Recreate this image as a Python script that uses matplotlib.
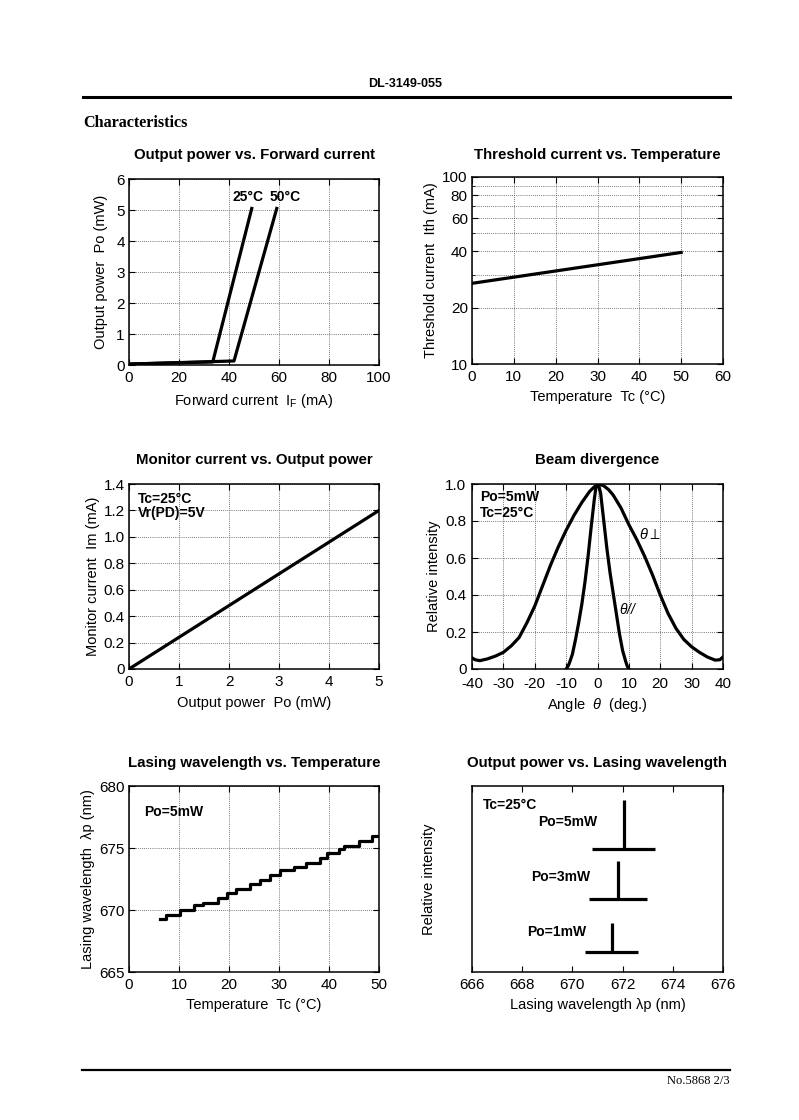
"""
plot.py

Laser diode DL-3149-055 characteristics sheet: six small panels laid out
like the datasheet page (2 columns x 3 rows), saved to out.png.
"""

import matplotlib
matplotlib.use("Agg")
import matplotlib.pyplot as plt
from matplotlib.ticker import FixedFormatter, FixedLocator, NullFormatter, NullLocator

W, H = 799, 1120
SANS = "Liberation Sans"
SERIF = "Liberation Serif"
LW = 2.3
TICK_FS = 11
LABEL_FS = 10.5
NOTE_FS = 10

plt.rcParams["font.family"] = [SANS, "DejaVu Sans"]
plt.rcParams["axes.unicode_minus"] = False
plt.rcParams["mathtext.fontset"] = "custom"
plt.rcParams["mathtext.rm"] = SANS
plt.rcParams["mathtext.it"] = SANS + ":italic"

# ---------------------------------------------------------------------------
# Data
# ---------------------------------------------------------------------------

# Output power vs. forward current
if_25c = [0, 33.5, 49.1]
po_25c = [0.03, 0.1, 5.05]
if_50c = [0, 42.0, 59.1]
po_50c = [0.03, 0.13, 5.05]

# Threshold current vs. temperature
tc_ith = [0, 50]
ith = [27.0, 39.5]

# Monitor current vs. output power
po_im = [0, 5]
im = [0.0, 1.2]

# Beam divergence
ang_perp = [-40, -39, -37.5, -35, -32.5, -30, -27.5, -25, -22.5, -20, -17.5, -15,
            -12.5, -10, -7.5, -5, -2.5, -1, 0.5, 2, 3.5, 5, 7.5, 10, 12.5, 15, 17.5,
            20, 22.5, 25, 27.5, 30, 32.5, 35, 37.5, 39, 40]
int_perp = [0.06, 0.05, 0.045, 0.055, 0.07, 0.09, 0.125, 0.17, 0.25, 0.34, 0.45, 0.56,
            0.66, 0.75, 0.83, 0.90, 0.96, 0.985, 1.0, 0.99, 0.97, 0.94, 0.87, 0.78, 0.70,
            0.61, 0.51, 0.40, 0.30, 0.22, 0.16, 0.12, 0.09, 0.065, 0.048, 0.05, 0.065]
ang_par = [-10, -9.5, -9, -8, -7, -6, -5, -4, -3, -2, -1, -0.5, 0, 0.5, 1,
           2, 3, 4, 5, 6, 7, 8, 9, 9.5, 10]
int_par = [0.0, 0.012, 0.03, 0.08, 0.16, 0.25, 0.35, 0.47, 0.61, 0.77, 0.92, 0.98, 1.0,
           0.985, 0.95, 0.80, 0.65, 0.52, 0.41, 0.30, 0.19, 0.10, 0.04, 0.015, 0.0]

# Lasing wavelength vs. temperature (mode hop staircase)
tc_wl = [6.2, 7.4, 10.1, 12.9, 14.7, 17.7, 19.5, 21.4, 24.2, 26.1, 28.1,
         30.2, 32.9, 35.3, 38.2, 39.5, 41.9, 42.9, 45.9, 48.5, 50.0]
wl = [669.3, 669.6, 670.0, 670.4, 670.6, 671.0, 671.4, 671.7, 672.1, 672.4, 672.8,
      673.2, 673.5, 673.8, 674.2, 674.6, 674.9, 675.2, 675.6, 676.0, 676.0]

# Output power vs. lasing wavelength (spectra as sticks)
spec_labels = ["Po=5mW", "Po=3mW", "Po=1mW"]
spec_peak = [672.05, 671.8, 671.58]
spec_top = [0.923, 0.598, 0.2625]
spec_base = [0.659, 0.391, 0.109]
spec_left = [670.8, 670.67, 670.5]
spec_right = [673.3, 672.99, 672.63]
spec_label_x = [668.64, 668.37, 668.2]
spec_label_y = [0.807, 0.5125, 0.2125]


# ---------------------------------------------------------------------------
# Helpers
# ---------------------------------------------------------------------------

def px_axes(fig, left, top, right, bottom):
    """Add axes from pixel box on the page."""
    return fig.add_axes([left / W, 1 - bottom / H, (right - left) / W, (bottom - top) / H])


def fig_text(fig, x, y, s, **kw):
    fig.text(x / W, 1 - y / H, s, **kw)


def style_axes(ax, grid=True):
    for sp in ax.spines.values():
        sp.set_linewidth(1.1)
    ax.tick_params(direction="in", top=True, right=True, length=4, width=0.8,
                   labelsize=TICK_FS, pad=3)
    ax.tick_params(axis="x", pad=4)
    if grid:
        ax.grid(True, which="both", linestyle=(0, (1, 1.5)), color="0.3", lw=0.6)
    ax.set_axisbelow(True)


def title(fig, ax_center_x, y, s):
    fig_text(fig, ax_center_x, y, s, ha="center", va="center",
             fontsize=10.8, fontweight="bold")


# ---------------------------------------------------------------------------
# Panels
# ---------------------------------------------------------------------------

def panel_po_if(fig):
    ax = px_axes(fig, 129, 179, 379, 365)
    style_axes(ax)
    ax.plot(if_25c, po_25c, color="k", lw=LW)
    ax.plot(if_50c, po_50c, color="k", lw=LW)
    ax.set_xlim(0, 100)
    ax.set_ylim(0, 6)
    ax.set_xticks(range(0, 101, 20))
    ax.set_yticks(range(0, 7))
    ax.text(41.5, 5.42, "25°C", fontsize=NOTE_FS, fontweight="bold", va="center")
    ax.text(56.4, 5.42, "50°C", fontsize=NOTE_FS, fontweight="bold", va="center")
    ax.set_xlabel(r"Forward current  I$_\mathregular{F}$ (mA)", fontsize=LABEL_FS, labelpad=5)
    ax.set_ylabel("Output power  Po (mW)", fontsize=LABEL_FS, labelpad=6)
    title(fig, 254, 155, "Output power vs. Forward current")


def panel_ith_tc(fig):
    ax = px_axes(fig, 472, 177, 723, 364)
    ax.set_yscale("log")
    style_axes(ax)
    ax.plot(tc_ith, ith, color="k", lw=LW)
    ax.set_xlim(0, 60)
    ax.set_ylim(10, 100)
    ax.set_xticks(range(0, 61, 10))
    ax.yaxis.set_major_locator(FixedLocator([10, 20, 40, 60, 80, 100]))
    ax.yaxis.set_major_formatter(FixedFormatter(["10", "20", "40", "60", "80", "100"]))
    ax.yaxis.set_minor_locator(FixedLocator([30, 50, 70, 90]))
    ax.yaxis.set_minor_formatter(NullFormatter())
    ax.tick_params(which="minor", direction="in", right=True, length=2.5)
    ax.set_xlabel("Temperature  Tc (°C)", fontsize=LABEL_FS, labelpad=5)
    ax.set_ylabel("Threshold current  Ith (mA)", fontsize=LABEL_FS, labelpad=3)
    title(fig, 597, 155, "Threshold current vs. Temperature")


def panel_im_po(fig):
    ax = px_axes(fig, 129, 484, 379, 669)
    style_axes(ax)
    ax.plot(po_im, im, color="k", lw=LW)
    ax.set_xlim(0, 5)
    ax.set_ylim(0, 1.4)
    ax.set_xticks(range(0, 6))
    ax.set_yticks([0, 0.2, 0.4, 0.6, 0.8, 1.0, 1.2, 1.4])
    ax.set_yticklabels(["0", "0.2", "0.4", "0.6", "0.8", "1.0", "1.2", "1.4"])
    ax.text(0.17, 1.29, "Tc=25°C", fontsize=NOTE_FS, fontweight="bold", va="center")
    ax.text(0.17, 1.18, "Vr(PD)=5V", fontsize=NOTE_FS, fontweight="bold", va="center")
    ax.set_xlabel("Output power  Po (mW)", fontsize=LABEL_FS, labelpad=5)
    ax.set_ylabel("Monitor current  Im (mA)", fontsize=LABEL_FS, labelpad=3)
    title(fig, 254, 460, "Monitor current vs. Output power")


def panel_beam(fig):
    ax = px_axes(fig, 472, 484, 723, 669)
    style_axes(ax)
    ax.plot(ang_perp, int_perp, color="k", lw=LW)
    ax.plot(ang_par, int_par, color="k", lw=LW)
    ax.set_xlim(-40, 40)
    ax.set_ylim(0, 1.0)
    ax.set_xticks(range(-40, 41, 10))
    ax.set_yticks([0, 0.2, 0.4, 0.6, 0.8, 1.0])
    ax.set_yticklabels(["0", "0.2", "0.4", "0.6", "0.8", "1.0"])
    ax.tick_params(axis="x", pad=6)
    ax.tick_params(axis="y", pad=4)
    ax.text(-37.5, 0.93, "Po=5mW", fontsize=NOTE_FS, fontweight="bold", va="center")
    ax.text(-37.5, 0.845, "Tc=25°C", fontsize=NOTE_FS, fontweight="bold", va="center")
    ax.text(13.3, 0.725, r"$\mathit{\theta}\perp$", fontsize=10.5, va="center")
    ax.text(7.0, 0.32, r"$\mathit{\theta}$//", fontsize=10, va="center", style="italic")
    ax.set_xlabel(r"Angle  $\mathit{\theta}$  (deg.)", fontsize=LABEL_FS, labelpad=3)
    ax.set_ylabel("Relative intensity", fontsize=LABEL_FS, labelpad=3)
    title(fig, 597, 460, "Beam divergence")


def panel_wl_tc(fig):
    ax = px_axes(fig, 129, 786, 379, 972)
    style_axes(ax)
    ax.step(tc_wl, wl, where="post", color="k", lw=LW)
    ax.set_xlim(0, 50)
    ax.set_ylim(665, 680)
    ax.set_xticks(range(0, 51, 10))
    ax.set_yticks([665, 670, 675, 680])
    ax.text(3.0, 677.9, "Po=5mW", fontsize=NOTE_FS, fontweight="bold", va="center")
    ax.set_xlabel("Temperature  Tc (°C)", fontsize=LABEL_FS, labelpad=5)
    ax.set_ylabel("Lasing wavelength  λp (nm)", fontsize=LABEL_FS, labelpad=3)
    title(fig, 254, 763, "Lasing wavelength vs. Temperature")


def panel_spectrum(fig):
    ax = px_axes(fig, 472, 786, 723, 972)
    style_axes(ax, grid=False)
    for lab, pk, top, base, lo, hi, lx, ly in zip(
        spec_labels, spec_peak, spec_top, spec_base, spec_left, spec_right,
        spec_label_x, spec_label_y,
    ):
        ax.plot([pk, pk], [base, top], color="k", lw=LW, solid_capstyle="butt")
        ax.plot([lo, hi], [base, base], color="k", lw=LW, solid_capstyle="butt")
        ax.text(lx, ly, lab, fontsize=NOTE_FS, fontweight="bold", va="center")
    ax.set_xlim(666, 676)
    ax.set_ylim(0, 1)
    ax.set_xticks(range(666, 677, 2))
    ax.yaxis.set_major_locator(NullLocator())
    ax.text(666.44, 0.9, "Tc=25°C", fontsize=NOTE_FS, fontweight="bold", va="center")
    ax.set_xlabel("Lasing wavelength λp (nm)", fontsize=LABEL_FS, labelpad=5)
    ax.set_ylabel("Relative intensity", fontsize=LABEL_FS, labelpad=26)
    title(fig, 597, 763, "Output power vs. Lasing wavelength")


def page_frame(fig):
    fig_text(fig, 405, 84, "DL-3149-055", ha="center", va="center",
             fontsize=9, fontweight="bold")
    fig.add_artist(plt.Line2D([83 / W, 730 / W], [1 - 97 / H, 1 - 97 / H],
                              color="k", lw=2.2))
    fig_text(fig, 83, 123, "Characteristics", ha="left", va="center",
             fontsize=11.6, fontweight="bold", family=SERIF)
    fig.add_artist(plt.Line2D([82 / W, 730 / W], [1 - 1070 / H, 1 - 1070 / H],
                              color="k", lw=1.6))
    fig_text(fig, 730, 1081, "No.5868 2/3", ha="right", va="center",
             fontsize=9, family=SERIF)


def main() -> None:
    fig = plt.figure(figsize=(W / 100, H / 100), dpi=100)
    fig.patch.set_facecolor("white")
    page_frame(fig)
    panel_po_if(fig)
    panel_ith_tc(fig)
    panel_im_po(fig)
    panel_beam(fig)
    panel_wl_tc(fig)
    panel_spectrum(fig)
    fig.savefig("out.png", dpi=100)
    plt.close(fig)


if __name__ == "__main__":
    main()
